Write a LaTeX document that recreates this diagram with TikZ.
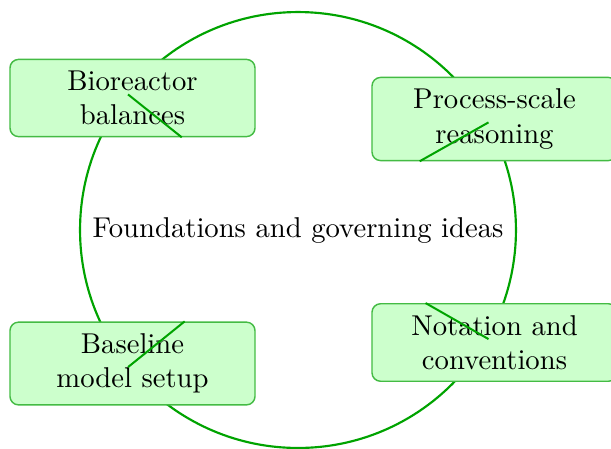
\documentclass[tikz,border=0pt]{standalone}
\usetikzlibrary{calc}
\definecolor{ringgreen}{HTML}{00A300}
\definecolor{boxedge}{HTML}{44BB44}
\definecolor{boxfill}{HTML}{CCFFCC}
\begin{document}
\begin{tikzpicture}[x=0.3489pt,y=-0.3489pt,
  topic/.style={draw=boxedge, fill=boxfill, rounded corners=3pt, minimum width=85.5pt, inner sep=4pt, align=center, line width=0.5pt},
  ring/.style={draw=ringgreen, line width=0.75pt},
  spoke/.style={draw=ringgreen, line width=0.7pt}]
\useasboundingbox (0,0) rectangle (611,448);
\node[circle, ring, minimum size=152.1pt, inner sep=0pt] (hub) at (298,230) {Foundations and governing ideas};
\node[topic] (b1) at (132.5,98) {Bioreactor\\balances};
\node[topic] (b2) at (494.5,119) {Process-scale\\reasoning};
\node[topic] (b3) at (132.5,363.5) {Baseline\\model setup};
\node[topic] (b4) at (494.5,342.5) {Notation and\\conventions};
\foreach \b/\s in {b1/-2pt,b2/2.4pt,b3/-2pt,b4/2.4pt}{
  \path (hub.center) -- (\b) coordinate[pos=1] (e\b);
  \draw[spoke] ($(\b.center)!\s!(e\b)$) -- (e\b);
}
\end{tikzpicture}
\end{document}
